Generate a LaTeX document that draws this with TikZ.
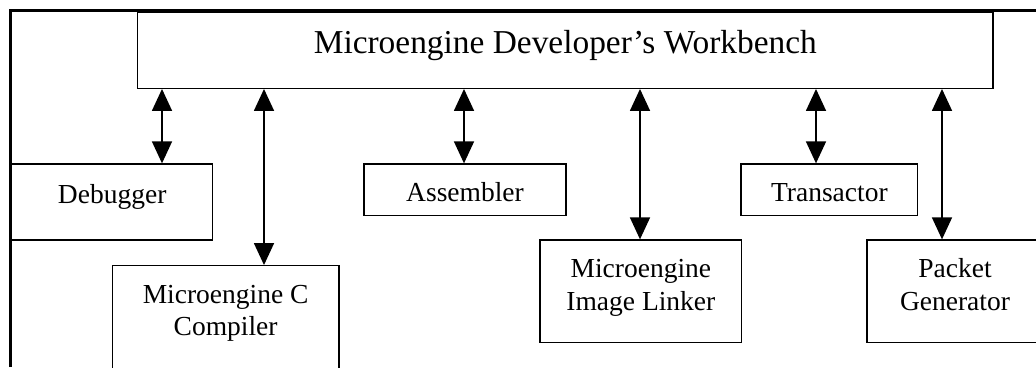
\documentclass[tikz,border=0pt]{standalone}
\usepackage{fontspec}
\setmainfont{Liberation Serif}
\usetikzlibrary{arrows.meta}
\begin{document}
\begin{tikzpicture}[x=1pt,y=1pt,
  box/.style={draw,line width=1.3pt,inner sep=0pt,minimum width=#1},
  lbl/.style={font=\fontsize{27.5}{33}\selectfont,align=center,anchor=base,inner sep=0pt},
  link/.style={line width=1.6pt,{Triangle[length=22pt,width=20pt]}-{Triangle[length=22pt,width=20pt]}}]
  \clip (0,0) rectangle (1036,-367);
  % outer frame (top and left edges)
  \draw[line width=3pt] (10.7,-367) -- (10.7,-10.7) -- (1036,-10.7);
  % workbench
  \node[box, minimum width=855.3pt, minimum height=75.6pt] (wb) at (565.35,-50.5) {};
  \node[font=\fontsize{33.4}{40}\selectfont,anchor=base,inner sep=0pt] (wbt) at (565.35,-53.5) {Microengine Developer’s Workbench};
  % tools (label anchors sit on the baseline of the last line)
  \node[box, minimum width=201pt, minimum height=76pt] (deb) at (112.2,-202) {};
  \node[lbl] (debt) at (deb.center |- 0,-203) {Debugger};
  \node[box, minimum width=202pt, minimum height=51.7pt] (asm) at (465,-189.85) {};
  \node[lbl] (asmt) at (asm.center |- 0,-201.5) {Assembler};
  \node[box, minimum width=176.7pt, minimum height=51.7pt] (trx) at (829.35,-189.85) {};
  \node[lbl] (trxt) at (trx.center |- 0,-201.5) {Transactor};
  \node[box, minimum width=226.7pt, minimum height=114.3pt] (cc) at (225.65,-322.85) {};
  \node[lbl] (cct) at (cc.center |- 0,-335.5) {Microengine C\\[-0.9pt]Compiler};
  \node[box, minimum width=201.7pt, minimum height=102.7pt] (lnk) at (640.85,-291.35) {};
  \node[lbl] (lnkt) at (lnk.center |- 0,-310.7) {Microengine\\[0.7pt]Image Linker};
  \node[box, minimum width=176pt, minimum height=102.7pt] (pkt) at (955,-291.35) {};
  \node[lbl] (pktt) at (pkt.center |- 0,-310.7) {Packet\\[0.7pt]Generator};
  % connector columns
  \coordinate (xdeb) at (162,0);
  \coordinate (xcc) at (264,0);
  \coordinate (xasm) at (464,0);
  \coordinate (xlnk) at (640,0);
  \coordinate (xtrx) at (816,0);
  \coordinate (xpkt) at (942,0);
  \draw[link] (wb.south -| xdeb) -- (deb.north -| xdeb);
  \draw[link] (wb.south -| xcc) -- (cc.north -| xcc);
  \draw[link] (wb.south -| xasm) -- (asm.north -| xasm);
  \draw[link] (wb.south -| xlnk) -- (lnk.north -| xlnk);
  \draw[link] (wb.south -| xtrx) -- (trx.north -| xtrx);
  \draw[link] (wb.south -| xpkt) -- (pkt.north -| xpkt);
\end{tikzpicture}
\end{document}
